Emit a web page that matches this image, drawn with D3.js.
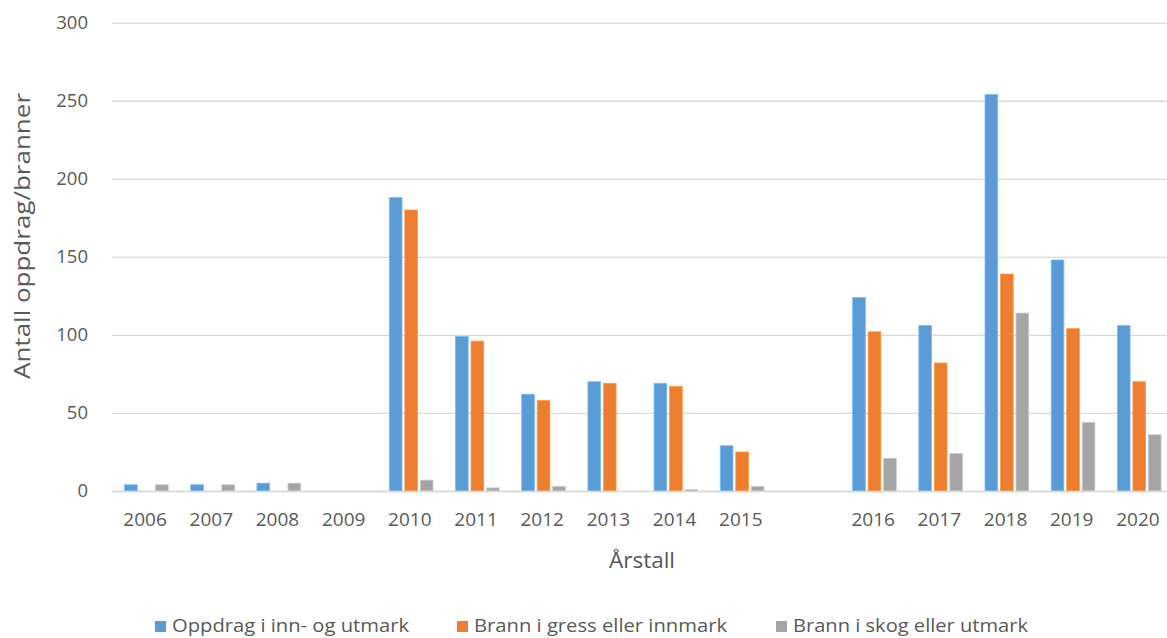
<!DOCTYPE html>
<html>
<head>
<meta charset="utf-8">
<script src="https://cdn.jsdelivr.net/npm/d3@7"></script>
<style>
  html, body { margin: 0; padding: 0; background: #fff; }
  svg { display: block; }
  text { font-family: "Open Sans", "Noto Sans", sans-serif; fill: #595959; }
</style>
</head>
<body>
<svg id="chart" width="1167" height="638"></svg>
<script>
// Years on the x axis; the empty entry leaves a blank slot between 2015 and 2016
const categories = ["2006","2007","2008","2009","2010","2011","2012","2013","2014","2015","","2016","2017","2018","2019","2020"];

const seriesNames = ["Oppdrag i inn- og utmark", "Brann i gress eller innmark", "Brann i skog eller utmark"];
const seriesColors = ["#5B9BD5", "#ED7D31", "#A5A5A5"];

const oppdrag    = [4, 4, 5, 0, 188, 99, 62, 70, 69, 29, null, 124, 106, 254, 148, 106];
const brannGress = [0, 0, 0, 0, 180, 96, 58, 69, 67, 25, null, 102, 82, 139, 104, 70];
const brannSkog  = [4, 4, 5, 0, 7, 2, 3, 0, 1, 3, null, 21, 24, 114, 44, 36];

const yTicks = [0, 50, 100, 150, 200, 250, 300];

const seriesValues = [oppdrag, brannGress, brannSkog];

const svg = d3.select("#chart");

const x0 = d3.scaleBand().domain(categories).range([112, 1171]).paddingInner(0).paddingOuter(0);
const bw = x0.bandwidth();
const x1 = d3.scaleBand().domain(d3.range(seriesNames.length))
  .range([bw * 0.19, bw * 0.19 + bw * 0.22 * 3]).paddingInner(0.18).paddingOuter(0);
const y = d3.scaleLinear().domain([0, 300]).range([491, 22.7]);

// Horizontal gridlines
const gy = svg.append("g")
  .attr("transform", "translate(112,0)")
  .call(d3.axisLeft(y).tickValues(yTicks).tickSize(-1060).tickFormat(""));
gy.select(".domain").remove();
gy.selectAll(".tick line").attr("stroke", "#D9D9D9").attr("stroke-width", 1.3);

// Y tick labels
const gyl = svg.append("g")
  .attr("transform", "translate(88,0)")
  .call(d3.axisLeft(y).tickValues(yTicks).tickSize(0).tickPadding(0));
gyl.select(".domain").remove();
gyl.selectAll("text").attr("font-size", 18.5).style("fill", "#595959")
  .attr("font-family", "'Open Sans', sans-serif");

// Bars
const groups = svg.append("g").selectAll("g")
  .data(categories.map((c, i) => ({ c, i })))
  .join("g")
  .attr("transform", d => `translate(${x0(d.c)},0)`);

groups.selectAll("rect")
  .data(d => seriesValues.map((vals, s) => ({ s, v: vals[d.i] })).filter(e => e.v))
  .join("rect")
  .attr("x", e => x1(e.s))
  .attr("width", x1.bandwidth())
  .attr("y", e => y(e.v))
  .attr("height", e => y(0) - y(e.v))
  .attr("fill", e => seriesColors[e.s])
  .attr("stroke", e => d3.color(seriesColors[e.s]).brighter(0.6))
  .attr("stroke-width", 0.8);

// X axis baseline and labels
const gx = svg.append("g")
  .attr("transform", `translate(0,${y(0)})`)
  .call(d3.axisBottom(x0).tickSize(0).tickPadding(22));
gx.select(".domain").attr("stroke", "#D9D9D9").attr("stroke-width", 1.3);
gx.selectAll("text").attr("font-size", 19).style("fill", "#595959")
  .attr("font-family", "'Open Sans', sans-serif");

// Axis titles
svg.append("text")
  .attr("transform", "translate(30,236) rotate(-90)")
  .attr("text-anchor", "middle")
  .attr("font-size", 22)
  .attr("textLength", 286)
  .attr("lengthAdjust", "spacingAndGlyphs")
  .text("Antall oppdrag/branner");

svg.append("text")
  .attr("x", 642)
  .attr("y", 568)
  .attr("text-anchor", "middle")
  .attr("font-size", 22)
  .attr("textLength", 66)
  .attr("lengthAdjust", "spacingAndGlyphs")
  .text("Årstall");

// Legend
const legendX = [155, 457, 776];
const legendLen = [237, 253, 235];
const legend = svg.append("g").selectAll("g")
  .data(seriesNames.map((n, i) => ({ n, i })))
  .join("g")
  .attr("transform", d => `translate(${legendX[d.i]},0)`);
legend.append("rect")
  .attr("x", 0).attr("y", 621).attr("width", 11).attr("height", 11)
  .attr("fill", d => seriesColors[d.i]);
legend.append("text")
  .attr("x", 17).attr("y", 632)
  .attr("font-size", 19)
  .attr("textLength", d => legendLen[d.i])
  .attr("lengthAdjust", "spacingAndGlyphs")
  .text(d => d.n);
</script>
</body>
</html>
